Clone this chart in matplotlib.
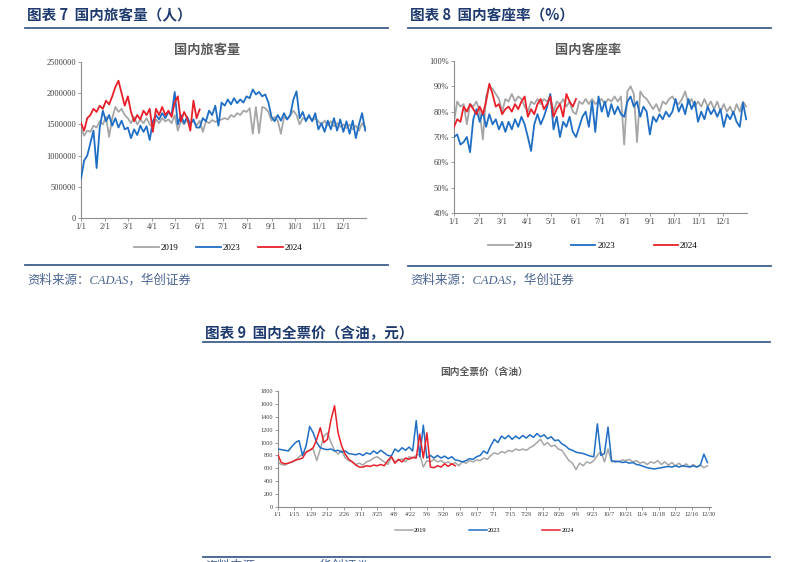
# Three domestic aviation panels: passengers, load factor and full fare (2019 / 2023 / 2024).

import numpy as np
import matplotlib
matplotlib.use('Agg')
import matplotlib.pyplot as plt
from matplotlib.lines import Line2D

plt.rcParams['font.family'] = ['Noto Sans CJK SC', 'DejaVu Sans']

# DATA.

# Day of year for each reading (4-day steps for the top panels, 3-day steps for the fare panel).
days_4 = np.arange(0, 365, 4)
days_4_2024 = np.arange(0, 153, 4)
days_3 = np.arange(0, 364, 3)
days_3_2024 = np.arange(0, 151, 3)

# Domestic passengers (thousands).
pax_2019 = [1450, 1320, 1400, 1380, 1480, 1450, 1550, 1500, 1620, 1300,
            1600, 1780, 1700, 1750, 1650, 1600, 1520, 1620, 1500, 1580,
            1520, 1600, 1500, 1450, 1580, 1520, 1600, 1550, 1580, 1520,
            1650, 1400, 1560, 1500, 1580, 1520, 1560, 1480, 1560, 1380,
            1550, 1520, 1570, 1540, 1560, 1580, 1600, 1580, 1650, 1620,
            1680, 1650, 1720, 1700, 1760, 1350, 1780, 1360, 1780, 1760,
            1700, 1560, 1620, 1560, 1350, 1620, 1580, 1650, 1720, 1650,
            1500, 1600, 1580, 1620, 1560, 1600, 1550, 1500, 1560, 1480,
            1550, 1470, 1520, 1460, 1500, 1440, 1500, 1420, 1480, 1400,
            1520, 1450]
pax_2023 = [630, 920, 1000, 1200, 1400, 800, 1450, 1720, 1550, 1650,
            1480, 1600, 1450, 1560, 1420, 1450, 1280, 1420, 1330, 1480,
            1380, 1470, 1250, 1550, 1650, 1580, 1680, 1600, 1700, 1650,
            2020, 1500, 1650, 1520, 1620, 1500, 1580, 1450, 1450, 1600,
            1550, 1720, 1650, 1800, 1480, 1850, 1800, 1900, 1820, 1920,
            1840, 1900, 1850, 1950, 1920, 2060, 1980, 2020, 1950, 1980,
            1850, 1620, 1550, 1650, 1560, 1680, 1580, 1650, 1900, 2030,
            1600, 1700, 1550, 1650, 1550, 1680, 1420, 1520, 1380, 1560,
            1420, 1600, 1400, 1580, 1380, 1550, 1350, 1560, 1280, 1500,
            1680, 1400]
pax_2024 = [1520, 1400, 1600, 1650, 1750, 1700, 1800, 1750, 1880, 1820,
            1950, 2100, 2200, 2000, 1800, 1950, 1700, 1550, 1650, 1580,
            1720, 1650, 1750, 1380, 1750, 1650, 1780, 1650, 1720, 1620,
            1850, 1950, 1550, 1700, 1600, 1400, 1880, 1600, 1740]

# Domestic load factor (%).
lf_2019 = [76, 84, 82, 83, 75, 83, 82, 84, 80, 69,
           86, 90, 89, 87, 85, 80, 85, 84, 87, 84,
           86, 85, 82, 80, 84, 83, 85, 83, 85, 84,
           86, 80, 84, 83, 85, 82, 84, 80, 79, 84,
           83, 85, 83, 85, 83, 84, 85, 83, 85, 84,
           86, 84, 86, 67, 88, 90, 87, 68, 88, 86,
           85, 83, 81, 83, 80, 84, 83, 85, 86, 84,
           83, 85, 88, 83, 85, 82, 84, 82, 85, 82,
           84, 81, 84, 80, 83, 80, 82, 79, 83, 80,
           84, 82]
lf_2023 = [70, 71, 67, 68, 70, 64, 77, 81, 76, 80,
           74, 79, 75, 77, 73, 76, 72, 76, 73, 77,
           74, 78, 75, 70, 64.5, 75, 79, 75, 78, 82,
           87, 73, 78, 70, 76, 74, 78, 72, 70, 74,
           78, 80, 74, 84, 72, 86, 80, 84, 78, 83,
           79, 82, 79, 78, 84, 86, 82, 84, 78, 82,
           80, 71, 78, 76, 79, 77, 80, 78, 80, 85,
           80, 83, 79, 85, 81, 84, 76, 80, 77, 82,
           79, 81, 78, 81, 74, 79, 77, 80, 76, 74,
           83.5, 77]
lf_2024 = [74, 77, 76, 82, 80, 83, 81, 79, 82, 79,
           84, 91, 87, 82, 83, 79, 81, 82, 80, 83,
           81, 84, 86, 78, 81, 79, 83, 85, 81, 83,
           86, 78, 81, 83, 78, 87, 84, 82, 85]

# Domestic full fare incl. fuel surcharge (yuan).
fare_2019 = [700, 660, 650, 680, 700, 720, 780, 820, 850, 880,
             900, 720, 900, 1100, 1150, 1000, 880, 820, 880, 760,
             720, 700, 660, 680, 650, 700, 720, 760, 780, 740,
             700, 660, 780, 700, 720, 750, 700, 780, 760, 800,
             820, 620, 720, 700, 740, 700, 720, 680, 700, 660,
             690, 640, 700, 680, 720, 700, 730, 720, 760, 740,
             800, 840, 820, 860, 840, 880, 860, 900, 880, 900,
             880, 920, 950, 1000, 1050, 960, 1000, 940, 960, 900,
             880, 800, 720, 680, 580, 680, 640, 700, 680, 720,
             800, 860, 700, 900, 700, 720, 700, 730, 720, 740,
             700, 720, 680, 700, 660, 700, 680, 720, 660, 700,
             650, 690, 640, 680, 630, 670, 620, 660, 620, 650,
             610, 640]
fare_2023 = [900, 890, 880, 870, 940, 1000, 1030, 800, 950, 1250,
             1150, 1000, 920, 900, 890, 900, 870, 880, 850, 870,
             830, 820, 810, 830, 800, 840, 820, 870, 830, 880,
             840, 800, 790, 900, 860, 920, 880, 930, 870, 1340,
             780, 1270, 760, 800, 760, 800, 760, 790, 750, 780,
             730, 720, 700, 720, 750, 740, 780, 800, 870, 830,
             950, 1050, 1000, 1100, 1060, 1110, 1050, 1100, 1060, 1110,
             1070, 1120, 1080, 1140, 1090, 1120, 1060, 1090, 1030, 1040,
             980, 950, 900, 880, 850, 840, 830, 810, 790, 780,
             1290, 800, 830, 1240, 720, 700, 710, 690, 700, 680,
             690, 660, 650, 630, 610, 600, 590, 600, 610, 620,
             630, 620, 640, 620, 640, 630, 620, 640, 620, 650,
             820, 690]
fare_2024 = [820, 690, 670, 680, 700, 730, 740, 760, 850, 880,
             920, 1050, 1230, 1000, 1050, 1350, 1570, 1150, 950, 820,
             740, 700, 650, 620, 620, 640, 630, 650, 640, 660,
             640, 720, 780, 680, 740, 700, 760, 740, 770, 760,
             1130, 760, 1150, 620, 610, 640, 620, 670, 630, 670,
             640]

# Tick positions and labels.
month_days = [0, 31, 60, 91, 121, 152, 182, 213, 244, 274, 305, 335]
month_labels = ['1/1', '2/1', '3/1', '4/1', '5/1', '6/1', '7/1', '8/1', '9/1', '10/1', '11/1', '12/1']
fare_tick_days = np.arange(0, 365, 14)
fare_tick_labels = ['1/1', '1/15', '1/29', '2/12', '2/26', '3/11', '3/25', '4/8', '4/22', '5/6',
                    '5/20', '6/3', '6/17', '7/1', '7/15', '7/29', '8/12', '8/26', '9/9', '9/23',
                    '10/7', '10/21', '11/4', '11/18', '12/2', '12/16', '12/30']
pax_ticks = [0, 500000, 1000000, 1500000, 2000000, 2500000]
lf_ticks = [40, 50, 60, 70, 80, 90, 100]
lf_labels = ['40%', '50%', '60%', '70%', '80%', '90%', '100%']
fare_ticks = [0, 200, 400, 600, 800, 1000, 1200, 1400, 1600, 1800]
years = ['2019', '2023', '2024']

# STYLE.

W, H = 797, 562
c_gray, c_blue, c_red = '#a6a6a6', '#1f6ec4', '#e8202a'
navy = '#1f3a6e'
rule = '#3f5f8f'
serif = 'Liberation Serif'

fig = plt.figure(figsize=(W / 100, H / 100), dpi=100)


def fx(px):
    return px / W


def fy(py):
    return 1 - py / H


def header(x0, x1, y_text, y_rule, text):
    fig.text(fx(x0), fy(y_text), text, fontsize=10.5, fontweight='bold', color=navy,
             ha='left', va='center')
    fig.add_artist(Line2D([fx(x0 - 2), fx(x1)], [fy(y_rule)] * 2, color=rule, lw=1.3))


def footer(x0, x1, y_rule, y_text):
    fig.add_artist(Line2D([fx(x0 - 2), fx(x1)], [fy(y_rule)] * 2, color=rule, lw=1.3))
    fig.text(fx(x0), fy(y_text), '资料来源：CADAS，华创证券', fontsize=9, style='italic',
             color='#4a6491', family=[serif, 'Noto Sans CJK SC'], ha='left', va='center')


def style_axes(ax, labelsize):
    for side in ['top', 'right']:
        ax.spines[side].set_visible(False)
    for side in ['left', 'bottom']:
        ax.spines[side].set_color('#8c8c8c')
        ax.spines[side].set_linewidth(0.8)
    ax.tick_params(axis='both', direction='out', length=2, width=0.6, color='#8c8c8c',
                   labelsize=labelsize, labelcolor='#404040', pad=1.5)
    for lab in ax.get_xticklabels() + ax.get_yticklabels():
        lab.set_fontfamily(serif)


def add_legend(ax, lines, cx, cy, size, handlelength, spacing):
    ax.legend(lines, years, loc='center', bbox_to_anchor=(fx(cx), fy(cy)),
              bbox_transform=fig.transFigure, ncol=3, frameon=False,
              prop={'family': serif, 'size': size}, handlelength=handlelength,
              handletextpad=0.2, columnspacing=spacing, borderaxespad=0)


# PANEL 7: passengers.
header(27, 388, 15, 28, '图表 7  国内旅客量（人）')
ax7 = fig.add_axes([fx(81), fy(218), (366 - 81) / W, (218 - 62) / H])
l1, = ax7.plot(days_4, np.array(pax_2019) * 1000, color=c_gray, lw=1.3, zorder=2)
l2, = ax7.plot(days_4, np.array(pax_2023) * 1000, color=c_blue, lw=1.3, zorder=3)
l3, = ax7.plot(days_4_2024, np.array(pax_2024) * 1000, color=c_red, lw=1.3, zorder=4)
ax7.set_xlim(0, 365)
ax7.set_ylim(0, 2500000)
ax7.set_xticks(month_days)
ax7.set_xticklabels(month_labels)
ax7.set_yticks(pax_ticks)
ax7.set_yticklabels([str(v) for v in pax_ticks])
style_axes(ax7, 6)
fig.text(fx(207), fy(50), '国内旅客量', fontsize=9.5, fontweight='bold', color='#595959',
         ha='center', va='center')
add_legend(ax7, [l1, l2, l3], 218, 248, 6.5, 2.8, 1.9)
footer(27, 388, 265, 280)

# PANEL 8: load factor.
header(410, 771, 15, 28, '图表 8  国内客座率（%）')
ax8 = fig.add_axes([fx(454), fy(213), (747 - 454) / W, (213 - 61) / H])
l1, = ax8.plot(days_4, lf_2019, color=c_gray, lw=1.3, zorder=2)
l2, = ax8.plot(days_4, lf_2023, color=c_blue, lw=1.3, zorder=3)
l3, = ax8.plot(days_4_2024, lf_2024, color=c_red, lw=1.3, zorder=4)
ax8.set_xlim(0, 365)
ax8.set_ylim(40, 100)
ax8.set_xticks(month_days)
ax8.set_xticklabels(month_labels)
ax8.set_yticks(lf_ticks)
ax8.set_yticklabels(lf_labels)
style_axes(ax8, 6)
fig.text(fx(588), fy(50), '国内客座率', fontsize=9.5, fontweight='bold', color='#595959',
         ha='center', va='center')
add_legend(ax8, [l1, l2, l3], 593, 246, 6.5, 2.7, 4.3)
footer(410, 771, 266, 280)

# PANEL 9: full fare.
header(205, 770, 333, 342, '图表 9  国内全票价（含油，元）')
ax9 = fig.add_axes([fx(277.7), fy(507), (711 - 277.7) / W, (507 - 391) / H])
l1, = ax9.plot(days_3, fare_2019, color=c_gray, lw=1.1, zorder=2)
l2, = ax9.plot(days_3, fare_2023, color=c_blue, lw=1.1, zorder=3)
l3, = ax9.plot(days_3_2024, fare_2024, color=c_red, lw=1.1, zorder=4)
ax9.set_xlim(0, 366)
ax9.set_ylim(0, 1800)
ax9.set_xticks(fare_tick_days)
ax9.set_xticklabels(fare_tick_labels)
ax9.set_yticks(fare_ticks)
ax9.set_yticklabels([str(v) for v in fare_ticks])
style_axes(ax9, 4.5)
fig.text(fx(484), fy(372), '国内全票价（含油）', fontsize=7, fontweight='bold', color='#595959',
         ha='center', va='center')
add_legend(ax9, [l1, l2, l3], 484.5, 530, 4.5, 2.9, 6.7)
footer(205, 770, 557, 566)

# Save figure.
fig.savefig('out.png', dpi=100)
